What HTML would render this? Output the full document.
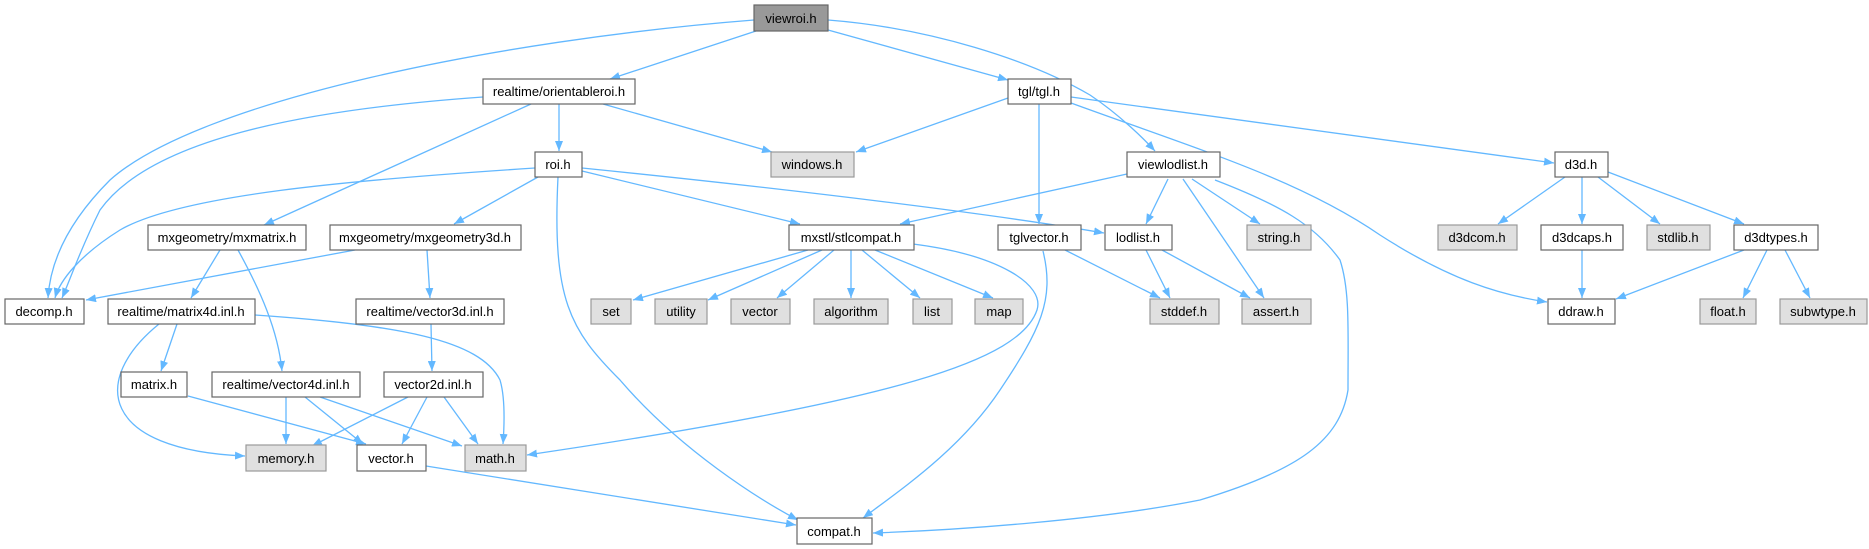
<!DOCTYPE html>
<html><head><meta charset="utf-8"><style>
html,body{margin:0;padding:0;background:#fff;}
svg{display:block;}
text{font-family:"Liberation Sans",sans-serif;font-size:13px;fill:#000;}
.w{fill:#fff;stroke:#666;stroke-width:1.2;}
.g{fill:#e0e0e0;stroke:#999;stroke-width:1.2;}
.d{fill:#999;stroke:#666;stroke-width:1.2;}
path{fill:none;stroke:#63b8ff;stroke-width:1.3;}
</style></head><body>
<svg width="1869" height="549" viewBox="0 0 1869 549" xmlns="http://www.w3.org/2000/svg">
<defs><marker id="a" viewBox="0 0 10 8" refX="10" refY="4" markerWidth="10" markerHeight="8" markerUnits="userSpaceOnUse" orient="auto"><polygon points="0,0 10,4 0,8" fill="#63b8ff"/></marker></defs>
<g marker-end="url(#a)">
<path d="M754,20 C500,40 200,100 110,180 C65,225 50,265 48,298"/>
<path d="M535,168 C350,180 180,195 120,230 C80,255 60,280 55,298"/>
<path d="M483,97 C300,110 150,140 100,210 C80,250 70,280 62,298"/>
<path d="M355,250 L86,300"/>
<path d="M756,31 L610,79"/>
<path d="M828,30 L1008,80"/>
<path d="M828,20 C930,28 1030,60 1090,95 C1120,115 1145,140 1155,151"/>
<path d="M559,104 L559,151"/>
<path d="M603,104 L772,152"/>
<path d="M531,104 L264,225"/>
<path d="M1008,98 L856,152"/>
<path d="M1039,104 L1039,224"/>
<path d="M1071,103 C1200,150 1300,180 1380,235 C1450,280 1500,295 1547,302"/>
<path d="M1071,97 L1554,163"/>
<path d="M538,177 L454,224"/>
<path d="M582,171 L800,224"/>
<path d="M582,168 C800,190 1000,215 1104,233"/>
<path d="M558,177 C552,300 570,330 620,380 C680,450 760,500 798,520"/>
<path d="M220,250 L191,298"/>
<path d="M238,250 C260,290 278,330 282,371"/>
<path d="M427,250 L430,298"/>
<path d="M808,250 L633,300"/>
<path d="M822,250 L708,300"/>
<path d="M834,250 L777,298"/>
<path d="M851,250 L851,298"/>
<path d="M862,250 L920,298"/>
<path d="M875,250 L993,298"/>
<path d="M913,244 C1000,255 1045,285 1037,310 C1020,360 900,400 527,455"/>
<path d="M1043,251 C1055,300 1040,330 1000,390 C960,450 900,490 863,518"/>
<path d="M1127,174 L900,224"/>
<path d="M1168,179 L1146,224"/>
<path d="M1192,179 L1260,224"/>
<path d="M1183,179 L1264,298"/>
<path d="M1215,180 C1280,205 1315,225 1340,260 C1350,290 1348,330 1348,390 C1340,440 1300,470 1200,500 C1100,520 960,530 873,533"/>
<path d="M1065,250 L1160,298"/>
<path d="M1146,250 L1170,298"/>
<path d="M1162,250 L1250,298"/>
<path d="M1565,177 L1498,224"/>
<path d="M1582,177 L1582,224"/>
<path d="M1598,177 L1660,224"/>
<path d="M1608,172 L1744,224"/>
<path d="M1582,250 L1582,298"/>
<path d="M1744,250 L1616,299"/>
<path d="M1767,250 L1743,298"/>
<path d="M1785,250 L1810,298"/>
<path d="M159,324 C90,380 100,450 245,456"/>
<path d="M177,324 L161,371"/>
<path d="M255,315 C400,325 480,340 500,380 C506,400 504,430 503,444"/>
<path d="M188,396 L366,444"/>
<path d="M286,397 L286,444"/>
<path d="M305,397 L363,444"/>
<path d="M320,397 L462,446"/>
<path d="M431,324 L432,371"/>
<path d="M408,397 L312,446"/>
<path d="M427,397 L402,444"/>
<path d="M444,397 L478,444"/>
<path d="M426,466 L796,525"/>
</g>
<g>
<rect class="d" x="754" y="5" width="74" height="26"/><text x="791" y="23" text-anchor="middle">viewroi.h</text>
<rect class="w" x="483" y="79" width="152" height="25"/><text x="559" y="96" text-anchor="middle">realtime/orientableroi.h</text>
<rect class="g" x="771" y="152" width="83" height="25"/><text x="812" y="169" text-anchor="middle">windows.h</text>
<rect class="w" x="535" y="152" width="47" height="25"/><text x="558" y="169" text-anchor="middle">roi.h</text>
<rect class="w" x="148" y="225" width="158" height="25"/><text x="227" y="242" text-anchor="middle">mxgeometry/mxmatrix.h</text>
<rect class="w" x="330" y="225" width="191" height="25"/><text x="425" y="242" text-anchor="middle">mxgeometry/mxgeometry3d.h</text>
<rect class="w" x="789" y="225" width="125" height="25"/><text x="851" y="242" text-anchor="middle">mxstl/stlcompat.h</text>
<rect class="w" x="5" y="299" width="79" height="25"/><text x="44" y="316" text-anchor="middle">decomp.h</text>
<rect class="w" x="108" y="299" width="147" height="25"/><text x="181" y="316" text-anchor="middle">realtime/matrix4d.inl.h</text>
<rect class="w" x="356" y="299" width="148" height="25"/><text x="430" y="316" text-anchor="middle">realtime/vector3d.inl.h</text>
<rect class="g" x="591" y="299" width="40" height="25"/><text x="611" y="316" text-anchor="middle">set</text>
<rect class="g" x="655" y="299" width="52" height="25"/><text x="681" y="316" text-anchor="middle">utility</text>
<rect class="g" x="731" y="299" width="59" height="25"/><text x="760" y="316" text-anchor="middle">vector</text>
<rect class="g" x="814" y="299" width="74" height="25"/><text x="851" y="316" text-anchor="middle">algorithm</text>
<rect class="g" x="913" y="299" width="39" height="25"/><text x="932" y="316" text-anchor="middle">list</text>
<rect class="g" x="975" y="299" width="48" height="25"/><text x="999" y="316" text-anchor="middle">map</text>
<rect class="w" x="121" y="372" width="66" height="25"/><text x="154" y="389" text-anchor="middle">matrix.h</text>
<rect class="w" x="212" y="372" width="148" height="25"/><text x="286" y="389" text-anchor="middle">realtime/vector4d.inl.h</text>
<rect class="w" x="384" y="372" width="99" height="25"/><text x="433" y="389" text-anchor="middle">vector2d.inl.h</text>
<rect class="g" x="246" y="445" width="80" height="26"/><text x="286" y="463" text-anchor="middle">memory.h</text>
<rect class="w" x="357" y="445" width="69" height="26"/><text x="391" y="463" text-anchor="middle">vector.h</text>
<rect class="g" x="465" y="445" width="61" height="26"/><text x="495" y="463" text-anchor="middle">math.h</text>
<rect class="w" x="797" y="518" width="75" height="26"/><text x="834" y="536" text-anchor="middle">compat.h</text>
<rect class="w" x="1008" y="79" width="63" height="25"/><text x="1039" y="96" text-anchor="middle">tgl/tgl.h</text>
<rect class="w" x="1127" y="152" width="93" height="25"/><text x="1173" y="169" text-anchor="middle">viewlodlist.h</text>
<rect class="w" x="1555" y="152" width="53" height="25"/><text x="1581" y="169" text-anchor="middle">d3d.h</text>
<rect class="w" x="998" y="225" width="83" height="25"/><text x="1039" y="242" text-anchor="middle">tglvector.h</text>
<rect class="w" x="1105" y="225" width="67" height="25"/><text x="1138" y="242" text-anchor="middle">lodlist.h</text>
<rect class="g" x="1247" y="225" width="64" height="25"/><text x="1279" y="242" text-anchor="middle">string.h</text>
<rect class="g" x="1438" y="225" width="79" height="25"/><text x="1477" y="242" text-anchor="middle">d3dcom.h</text>
<rect class="w" x="1541" y="225" width="82" height="25"/><text x="1582" y="242" text-anchor="middle">d3dcaps.h</text>
<rect class="g" x="1647" y="225" width="63" height="25"/><text x="1678" y="242" text-anchor="middle">stdlib.h</text>
<rect class="w" x="1734" y="225" width="84" height="25"/><text x="1776" y="242" text-anchor="middle">d3dtypes.h</text>
<rect class="g" x="1150" y="299" width="69" height="25"/><text x="1184" y="316" text-anchor="middle">stddef.h</text>
<rect class="g" x="1242" y="299" width="69" height="25"/><text x="1276" y="316" text-anchor="middle">assert.h</text>
<rect class="w" x="1548" y="299" width="67" height="25"/><text x="1581" y="316" text-anchor="middle">ddraw.h</text>
<rect class="g" x="1700" y="299" width="56" height="25"/><text x="1728" y="316" text-anchor="middle">float.h</text>
<rect class="g" x="1780" y="299" width="87" height="25"/><text x="1823" y="316" text-anchor="middle">subwtype.h</text>
</g>
</svg>
</body></html>
